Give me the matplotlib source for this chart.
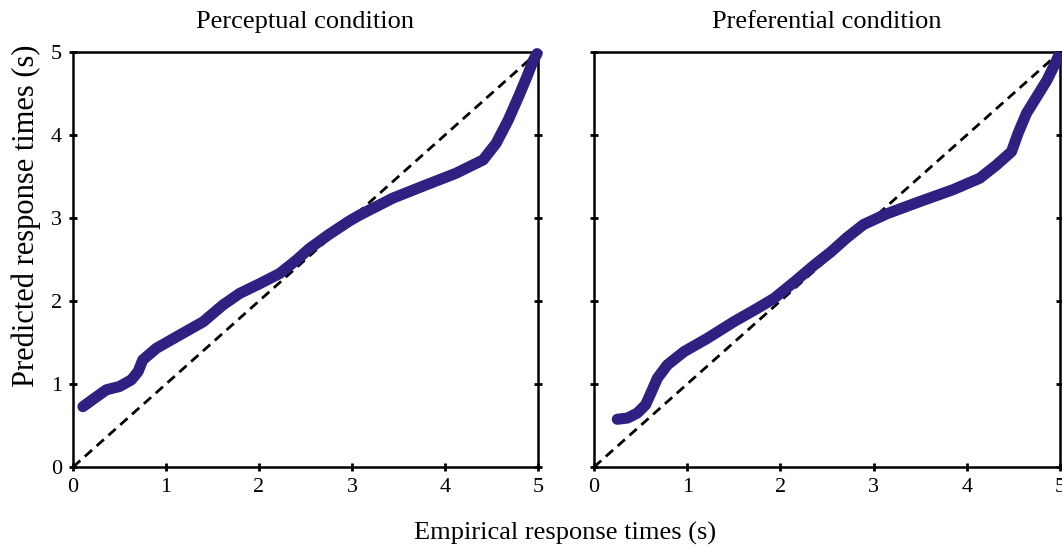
import matplotlib
matplotlib.use("Agg")
import matplotlib.pyplot as plt

plt.rcParams['font.family'] = ['Liberation Serif', 'DejaVu Serif']

titles = ["Perceptual condition", "Preferential condition"]
x_label = "Empirical response times (s)"
y_label = "Predicted response times (s)"
ticks = [0, 1, 2, 3, 4, 5]

perc_x = [0.107, 0.233, 0.358, 0.50, 0.627, 0.70, 0.75, 0.896, 1.147, 1.40, 1.61, 1.79,
          2.01, 2.22, 2.40, 2.54, 2.75, 2.98, 3.09, 3.44, 3.80, 4.12, 4.41, 4.55, 4.68,
          4.79, 4.88, 4.95, 4.99]
perc_y = [0.727, 0.83, 0.93, 0.97, 1.05, 1.15, 1.29, 1.43, 1.59, 1.75, 1.95, 2.09,
          2.21, 2.33, 2.49, 2.63, 2.80, 2.97, 3.04, 3.24, 3.40, 3.54, 3.70, 3.90, 4.18,
          4.46, 4.70, 4.90, 4.98]

pref_x = [0.25, 0.36, 0.465, 0.554, 0.61, 0.68, 0.787, 0.966, 1.216, 1.50, 1.75, 1.93,
          2.15, 2.36, 2.54, 2.71, 2.89, 3.14, 3.50, 3.85, 4.14, 4.32, 4.48, 4.55, 4.64,
          4.75, 4.86, 4.93, 4.98]
pref_y = [0.575, 0.59, 0.65, 0.75, 0.89, 1.07, 1.23, 1.39, 1.55, 1.75, 1.91, 2.03,
          2.23, 2.43, 2.59, 2.76, 2.92, 3.05, 3.20, 3.34, 3.48, 3.64, 3.80, 4.02, 4.26,
          4.46, 4.66, 4.82, 4.94]

series = [(perc_x, perc_y), (pref_x, pref_y)]
curve_color = '#2e2182'

fig = plt.figure(figsize=(10.62, 5.47), dpi=100)
ax_rects = [[73/1062, 1-467/547, 465/1062, 415/547],
            [594/1062, 1-467/547, 466/1062, 415/547]]

for i, rect in enumerate(ax_rects):
    ax = fig.add_axes(rect)
    xs, ys = series[i]
    ax.plot([0, 5], [0, 5], color='black', lw=2.0, ls=(0, (3.5, 2.2)), zorder=2)
    ax.plot(xs, ys, color=curve_color, lw=8, solid_capstyle='round',
            solid_joinstyle='round', zorder=3, clip_on=False)
    ax.set_xlim(0, 5)
    ax.set_ylim(0, 5)
    ax.set_xticks(ticks)
    ax.set_yticks(ticks)
    ax.set_xticklabels([str(t) for t in ticks], fontsize=16)
    if i == 0:
        ax.set_yticklabels([str(t) for t in ticks], fontsize=16)
    else:
        ax.set_yticklabels([])
    ax.tick_params(direction='inout', length=6, width=2, right=True, top=False, pad=5)
    for s in ax.spines.values():
        s.set_linewidth(1.8)
    ax.set_title(titles[i], fontsize=19, pad=17)

fig.text(565/1062, 1-540/547, x_label, ha='center', va='baseline', fontsize=19)
fig.text(26/1062, 1-216/547, y_label, ha='center', va='center', rotation=90, fontsize=22)

fig.savefig("out.png", dpi=100)
